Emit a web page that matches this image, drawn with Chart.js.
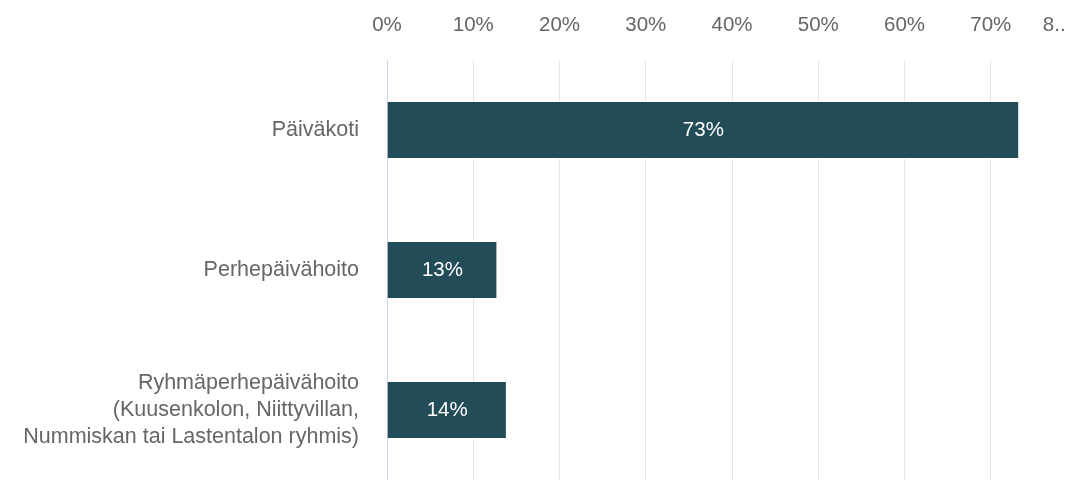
<!DOCTYPE html>
<html lang="fi">
<head>
<meta charset="utf-8">
<title>Hoitomuoto</title>
<script src="https://cdn.jsdelivr.net/npm/chart.js@4"></script>
<style>
    html, body { margin: 0; padding: 0; background: #ffffff; overflow: hidden; }
    #wrap { width: 1180px; height: 480px; }
</style>
</head>
<body>
<div id="wrap"><canvas id="hoitoChart" width="1180" height="480"></canvas></div>
<script>
// Datos del gráfico
var categorias = [
    'Päiväkoti',
    'Perhepäivähoito',
    ['Ryhmäperhepäivähoito', '(Kuusenkolon, Niittyvillan,', 'Nummiskan tai Lastentalon ryhmis)']
];
var porcentajes = [73.3, 12.8, 13.9];
var ticksX = [0, 10, 20, 30, 40, 50, 60, 70, 80];
var etiquetasX = ['0%', '10%', '20%', '30%', '40%', '50%', '60%', '70%', '8..'];

Chart.defaults.font.family = '"Liberation Sans", Arial, sans-serif';
Chart.defaults.font.size = 20.5;
Chart.defaults.color = '#666666';

// Plugin sencillo para escribir el porcentaje dentro de cada barra
var etiquetasBarras = {
    id: 'etiquetasBarras',
    afterDatasetsDraw: function(chart) {
        var ctx = chart.ctx;
        var meta = chart.getDatasetMeta(0);
        ctx.save();
        ctx.fillStyle = '#ffffff';
        ctx.font = '20.5px "Liberation Sans", Arial, sans-serif';
        ctx.textAlign = 'center';
        ctx.textBaseline = 'middle';
        meta.data.forEach(function(bar, i) {
            var x = (bar.x + bar.base) / 2;
            ctx.fillText(Math.round(porcentajes[i]) + '%', x, bar.y);
        });
        ctx.restore();
    }
};

// quitar el relleno que Chart.js reserva para las etiquetas de los extremos
function sinRelleno(scale) {
    scale.paddingTop = 0;
    scale.paddingBottom = 0;
    scale.paddingLeft = 0;
    scale.paddingRight = 0;
}

var ctx = document.getElementById('hoitoChart').getContext('2d');
var hoitoChart = new Chart(ctx, {
    type: 'bar',
    data: {
        labels: categorias,
        datasets: [{
            data: porcentajes,
            backgroundColor: '#234c59',
            borderColor: 'rgba(255, 255, 255, 0.7)',
            borderWidth: 1,
            barPercentage: 0.414,
            categoryPercentage: 1
        }]
    },
    options: {
        indexAxis: 'y',
        responsive: false,
        animation: false,
        layout: {
            padding: { top: 13, right: 103, bottom: 0, left: 0 }
        },
        plugins: {
            legend: { display: false },
            tooltip: { enabled: false }
        },
        scales: {
            x: {
                position: 'top',
                min: 0,
                max: 80,
                afterBuildTicks: function(scale) {
                    scale.ticks = ticksX.map(function(v) { return { value: v }; });
                },
                afterFit: function(scale) {
                    scale.height = 47;
                    sinRelleno(scale);
                },
                ticks: {
                    padding: 22,
                    color: '#666666',
                    callback: function(value) {
                        var i = ticksX.indexOf(value);
                        var txt = etiquetasX[i];
                        // la última etiqueta sale recortada, se desplaza con espacios
                        if (i === ticksX.length - 1) {
                            txt = txt + '        ';
                        }
                        return txt;
                    }
                },
                grid: {
                    color: '#e6e6e6',
                    lineWidth: 1,
                    drawTicks: false
                },
                border: { display: false }
            },
            y: {
                afterFit: function(scale) {
                    scale.width = 387;
                    sinRelleno(scale);
                },
                ticks: {
                    padding: 28,
                    color: '#666666',
                    font: { size: 21.5, lineHeight: 1.24 }
                },
                grid: { display: false, drawTicks: false },
                border: { display: true, color: '#ccd6eb', width: 1 }
            }
        }
    },
    plugins: [etiquetasBarras]
});
</script>
</body>
</html>
